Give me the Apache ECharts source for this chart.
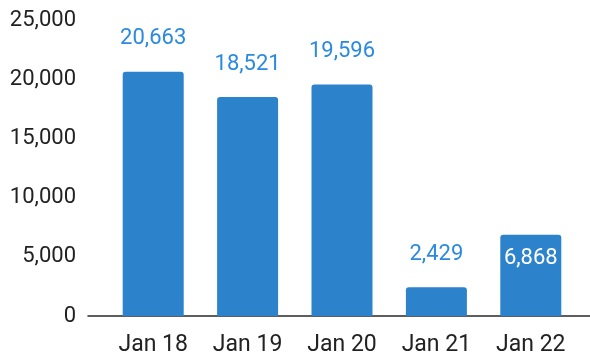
<!DOCTYPE html>
<html>
<head>
<meta charset="utf-8">
<script src="https://cdn.jsdelivr.net/npm/echarts@6/dist/echarts.min.js"></script>
<style>
  html, body { margin: 0; padding: 0; background: #fff; }
  #chart { width: 590px; height: 353px; }
</style>
</head>
<body>
<div id="chart"></div>
<script>
// Monthly totals, January of each year
const categories = ['Jan 18', 'Jan 19', 'Jan 20', 'Jan 21', 'Jan 22'];
const values = [20663, 18521, 19596, 2429, 6868];
// Bars whose value label sits inside the bar top
const insideLabel = [false, false, false, false, true];

const barColor = '#2c83cb';
const labelBlue = '#2a8ae0';
const textDark = '#222222';
const fontFamily = 'Roboto, "Noto Sans", sans-serif';

const chart = echarts.init(document.getElementById('chart'), null, { renderer: 'canvas' });

const barData = values.map((v, i) => ({
  value: v,
  label: insideLabel[i]
    ? { position: 'insideTop', distance: 13, color: '#ffffff' }
    : { position: 'top', distance: 22, color: labelBlue }
}));

chart.setOption({
  animation: false,
  grid: [
    { left: 106, right: 12, top: 20.5, bottom: 37, outerBoundsMode: 'none', containLabel: false },
    // wider grid that only carries the baseline
    { left: 88, right: 0, top: 20.5, bottom: 37, outerBoundsMode: 'none', containLabel: false }
  ],
  xAxis: [
    {
      type: 'category',
      gridIndex: 0,
      data: categories,
      axisLine: { show: false },
      axisTick: { show: false },
      axisLabel: { color: textDark, fontSize: 23, fontFamily: fontFamily, margin: 18 }
    },
    {
      type: 'value',
      gridIndex: 1,
      min: 0,
      max: 1,
      axisLine: { show: true, onZero: false, lineStyle: { color: '#2a2a2a', width: 1.5 } },
      axisTick: { show: false },
      axisLabel: { show: false },
      splitLine: { show: false }
    }
  ],
  yAxis: [
    {
      type: 'value',
      gridIndex: 0,
      min: 0,
      max: 25000,
      interval: 5000,
      axisLine: { show: false },
      axisTick: { show: false },
      splitLine: { show: false },
      axisLabel: {
        color: textDark,
        fontSize: 22,
        fontFamily: fontFamily,
        margin: 30,
        formatter: v => v.toLocaleString('en-US')
      }
    },
    {
      type: 'value',
      gridIndex: 1,
      min: 0,
      max: 1,
      show: false
    }
  ],
  series: [
    {
      type: 'bar',
      xAxisIndex: 0,
      yAxisIndex: 0,
      data: barData,
      barWidth: 61,
      itemStyle: { color: barColor, borderRadius: [3, 3, 0, 0] },
      label: {
        show: true,
        fontSize: 22,
        fontFamily: fontFamily,
        formatter: p => p.value.toLocaleString('en-US')
      },
      z: 3
    }
  ]
});
</script>
</body>
</html>
